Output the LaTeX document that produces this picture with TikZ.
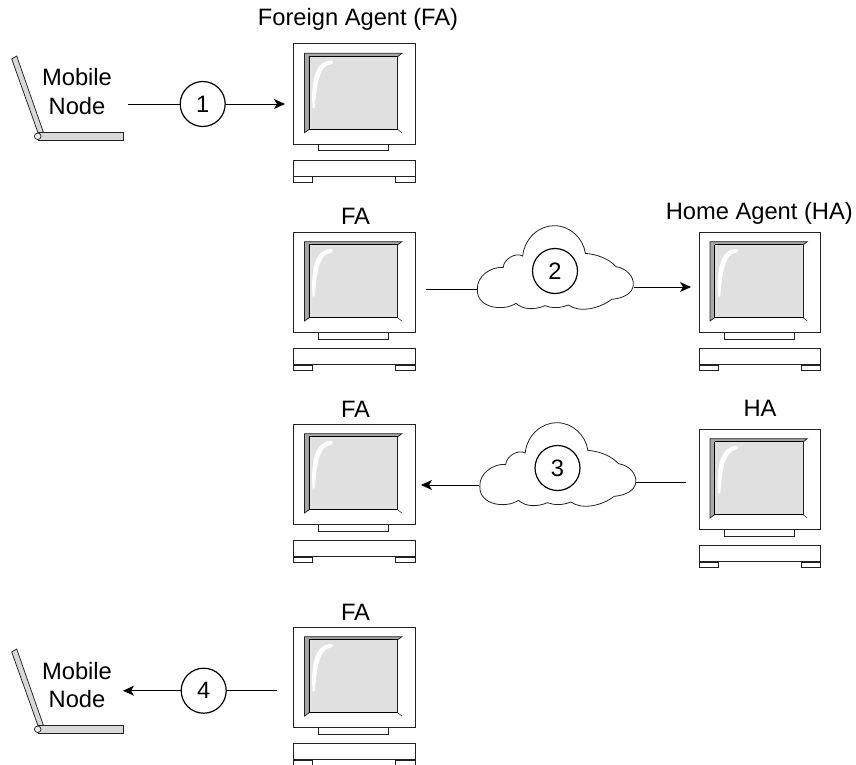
\documentclass[tikz,border=0pt]{standalone}
\usepackage{fontspec}
\setmainfont{Liberation Sans}
\usetikzlibrary{arrows.meta}
\definecolor{screengray}{HTML}{E0E0E0}
\definecolor{bevelgray}{HTML}{A8A8A8}
\definecolor{lidgray}{HTML}{D8D8D8}
\definecolor{linegray}{HTML}{222222}
\tikzset{
  x=1pt,y=-1pt,
  lbl/.style={font=\fontsize{23.7}{27.7}\selectfont,inner sep=0pt,text=black,anchor=base},
  stepcircle/.style={circle,draw=black,line width=1.2pt,minimum size=45pt,inner sep=0pt,text=black,font=\fontsize{23.7}{27.7}\selectfont},
  wire/.style={line width=0.9pt,draw=black},
  wirearrow/.style={wire,-{Stealth[length=11pt,width=10pt,inset=3pt]}},
  thin outline/.style={draw=linegray,line width=0.75pt},
  pics/monitor/.style={code={
    \begin{scope}[scale=1/3,shift={(-40,-42)}]
      \draw[thin outline,line width=1pt,fill=white] (40,42) rectangle (405,343);
      \draw[thin outline,fill=bevelgray] (73,70) -- (365,70) -- (352,80) -- (87,80) -- (87,298) -- (73,308) -- cycle;
      \draw[thin outline,line width=0.5pt] (352,298) -- (365,308);
      \fill[screengray] (87,80) rectangle (352,298);
      \draw[black,line width=1pt] (87,80) -- (352,80);
      \draw[black,line width=1pt] (87,298) -- (352,298);
      \draw[black,line width=1pt] (87,80) -- (87,298);
      \draw[linegray,line width=0.8pt] (352,80) -- (352,298);
      \fill[white] (97,234) .. controls (93,170) and (98,94) .. (152,92) .. controls (160,93) and (160,101) .. (152,103) .. controls (116,106) and (109,170) .. (104,232) .. controls (102,236) and (98,236) .. (97,234) -- cycle;
      \draw[thin outline,fill=white] (115,343) rectangle (325,362);
      \draw[thin outline,line width=1pt,fill=white] (40,392) rectangle (405,440);
      \draw[thin outline,fill=white] (40,440) rectangle (98,457);
      \draw[thin outline,fill=white] (347,440) rectangle (405,457);
    \end{scope}
  }},
  pics/laptop/.style={code={
    \draw[thin outline,fill=lidgray] (11.7,59) -- (16.7,56) -- (43.3,132) -- (38.3,133.5) -- cycle;
    \draw[thin outline,fill=lidgray] (38,132.7) rectangle (123.3,140);
    \draw[thin outline,fill=lidgray!40] (37.7,136.3) circle (3.3);
  }},
  pics/cloudshape/.style={code={
    \begin{scope}[scale=1/3,shift={(-285,-153)}]
      \draw[linegray,line width=0.8pt,fill=white] (52,208) .. controls (50,170) and (90,140) .. (130,142)
        .. controls (130,120) and (165,95) .. (188,108)
        .. controls (195,50) and (240,17) .. (283,17)
        .. controls (330,17) and (370,55) .. (376,100)
        .. controls (410,103) and (445,115) .. (468,140)
        .. controls (500,145) and (522,170) .. (520,195)
        .. controls (518,220) and (490,235) .. (455,238)
        .. controls (420,265) and (360,280) .. (325,255)
        .. controls (300,265) and (275,265) .. (255,257)
        .. controls (225,270) and (190,270) .. (168,250)
        .. controls (130,275) and (50,265) .. (52,208) -- cycle;
    \end{scope}
  }}
}
\begin{document}
\begin{tikzpicture}
\useasboundingbox (0,0) rectangle (856,765);
\clip (0,0) rectangle (856,765);
% monitors
\pic at (293.5,44) {monitor};
\pic at (293.5,232.3) {monitor};
\pic at (699,232.3) {monitor};
\pic at (293.5,424.3) {monitor};
\pic at (699,429.3) {monitor};
\pic at (293.5,627.3) {monitor};
% laptops
\pic at (0,0) {laptop};
\pic at (0,593) {laptop};
% clouds
\pic at (555,271) {cloudshape};
\pic at (557.5,468) {cloudshape};
% labels
\node[lbl] (tfa1) at (358,26) {Foreign Agent (FA)};
\node[lbl] (tfa2) at (355.5,224) {FA};
\node[lbl] (tha2) at (759.3,219.3) {Home Agent (HA)};
\node[lbl] (tfa3) at (355.5,417) {FA};
\node[lbl] (tha3) at (760,416.7) {HA};
\node[lbl] (tfa4) at (355.5,620) {FA};
\node[lbl] (mn1a) at (77,86) {Mobile};
\node[lbl] (mn1b) at (77,114) {Node};
\node[lbl] (mn2a) at (77,679.5) {Mobile};
\node[lbl] (mn2b) at (77,707.5) {Node};
% step circles
\node[stepcircle] (s1) at (202.7,104) {1};
\node[stepcircle] (s2) at (555,271) {2};
\node[stepcircle] (s3) at (557.5,468) {3};
\node[stepcircle] (s4) at (203.7,690.7) {4};
% connector ends
\coordinate (a1) at (128,104);
\coordinate (b1) at (285,104);
\coordinate (a2) at (426,289);
\coordinate (a2e) at (477,289);
\coordinate (b2s) at (634,287);
\coordinate (b2) at (691,287);
\coordinate (a3) at (479,485);
\coordinate (a3e) at (421,485);
\coordinate (b3s) at (636,482.3);
\coordinate (b3) at (686,482.3);
\coordinate (a4) at (277,690.7);
\coordinate (b4) at (123,690.7);
% connectors
\draw[wire] (a1) -- (s1);
\draw[wirearrow] (s1) -- (b1);
\draw[wire] (a2) -- (a2e);
\draw[wirearrow] (b2s) -- (b2);
\draw[wire] (b3) -- (b3s);
\draw[wirearrow] (a3) -- (a3e);
\draw[wire] (a4) -- (s4);
\draw[wirearrow] (s4) -- (b4);
\end{tikzpicture}
\end{document}
